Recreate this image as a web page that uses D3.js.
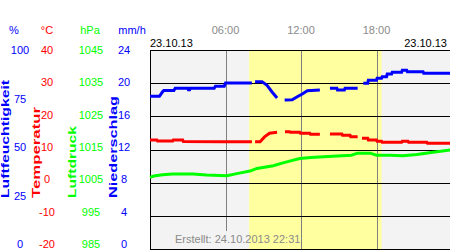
<!doctype html>
<html lang="de">
<head>
<meta charset="utf-8">
<style>
  body { margin: 0; background: #fff; }
  text { font-family: "Liberation Sans", Arial, Helvetica, sans-serif; font-size: 11px; }
  .title { font-weight: bold; }
</style>
</head>
<body>
<script src="https://d3js.org/d3.v7.min.js"></script>
<div id="chart"></div>
<script>
// axis columns (unit, tick labels, colour)
var humTicks = [0, 25, 50, 75, 100];
var tempTicks = [-20, -10, 0, 10, 20, 30, 40];
var presTicks = [985, 995, 1005, 1015, 1025, 1035, 1045];
var rainTicks = [0, 4, 8, 12, 16, 20, 24];
var timeTicks = [6, 12, 18];
var timeLabels = ["06:00", "12:00", "18:00"];
var daylight = [7.88, 18.4];

// Luftfeuchtigkeit (%), null = no data
var humHours = [0, 0.75, 1.0, 1.1, 1.9, 2.0, 3.0, 3.05, 3.15, 3.2, 5.1, 5.2, 5.9, 6.0, 8.1, 8.2,
  8.35, 8.9, 9.3, 9.7, 10.1, 10.4,
  10.7, 11.3, 11.7, 12.1, 12.5, 13.5, 13.9,
  14.3, 14.85, 14.9, 15.45, 15.5, 16.5, 16.7,
  16.95, 17.3, 17.35, 18.0, 18.05, 18.4, 18.45, 18.8, 18.85, 19.2, 19.25, 20.0, 20.05, 20.4, 20.45, 21.7, 21.75, 24];
var humValues = [76.7, 76.7, 79.0, 79.7, 79.7, 80.8, 80.8, 80.0, 80.0, 80.8, 80.8, 81.8, 81.8, 83.4, 83.4, null,
  84.1, 84.1, 82.2, 78.9, 75.9, null,
  74.9, 75.0, 76.5, 77.9, 79.5, 79.9, null,
  80.8, 80.8, 79.9, 79.9, 80.8, 80.8, null,
  83.3, 83.3, 84.8, 84.8, 85.8, 85.8, 86.6, 86.6, 87.9, 87.9, 88.8, 88.8, 89.8, 89.8, 89.1, 89.1, 88.3, 88.3];

// Temperatur (°C)
var tempHours = [0, 0.55, 0.6, 1.8, 1.85, 2.6, 2.65, 5.8, 8.1, 8.2,
  8.35, 8.75, 9.1, 9.5, 10.1, 10.4,
  10.73, 11.1, 11.15, 11.9, 11.95, 12.7, 12.75, 13.5, 13.9,
  14.3, 15.25, 15.3, 15.9, 15.95, 16.5, 16.7,
  16.85, 17.3, 17.35, 18.0, 18.05, 18.4, 18.45, 20.0, 20.05, 20.5, 20.55, 22.0, 22.05, 24];
var tempValues = [12.86, 12.86, 12.56, 12.56, 12.86, 12.86, 12.4, 12.3, 12.35, null,
  12.35, 12.35, 13.8, 14.9, 15.19, null,
  15.37, 15.37, 15.19, 15.19, 14.88, 14.88, 14.58, 14.58, null,
  14.67, 14.67, 14.28, 14.28, 13.86, 13.86, null,
  13.38, 13.38, 12.86, 12.86, 12.47, 12.47, 12.17, 12.17, 12.47, 12.47, 12.17, 12.17, 11.87, 11.87];

// Luftdruck (hPa)
var presHours = [0, 0.3, 1.0, 1.8, 3.4, 4.5, 6.1, 7.0, 7.95, 8.5, 9.8, 10.5, 11.1, 11.9, 12.8, 14.5,
  16.0, 16.5, 17.5, 18.0, 19.1, 20.1, 21.2, 22.5, 24];
var presValues = [1006.6, 1007.0, 1007.4, 1007.6, 1007.6, 1007.3, 1007.1, 1007.8, 1008.5, 1009.3, 1010.1, 1010.9, 1011.5, 1012.3, 1012.6, 1013.0,
  1013.3, 1013.9, 1013.9, 1013.3, 1013.3, 1013.1, 1013.5, 1014.2, 1014.9];

var width = 450, height = 250;
var plotLeft = 150, plotTop = 50, plotBottom = 249;

var svg = d3.select("#chart").append("svg")
  .attr("width", width).attr("height", height);

var x = d3.scaleLinear().domain([0, 24]).range([plotLeft, 452]);
var yHum = d3.scaleLinear().domain([0, 100]).range([plotBottom, plotTop]);
var yTemp = d3.scaleLinear().domain([-20, 40]).range([plotBottom, plotTop]);
var yPres = d3.scaleLinear().domain([985, 1045]).range([plotBottom, plotTop]);
// tick labels sit on a slightly shorter column
var labelY = d3.scaleLinear().domain([0, 1]).range([244, 50]);

var blue = "#0000ff", red = "#ff0000", green = "#00ff00";

// backgrounds
svg.append("rect").attr("x", plotLeft).attr("y", plotTop)
  .attr("width", width - plotLeft).attr("height", plotBottom - plotTop).attr("fill", "#f3f3f3");
svg.append("rect").attr("x", x(daylight[0])).attr("y", plotTop)
  .attr("width", x(daylight[1]) - x(daylight[0])).attr("height", plotBottom - plotTop).attr("fill", "#ffffa0");

// time lines (stop above the "Erstellt" note)
var noteX = [175, 297], noteTop = 231;
svg.selectAll(".vline").data(timeTicks).enter().append("line")
  .attr("x1", function(d) { return Math.round(x(d)) + 0.5; })
  .attr("x2", function(d) { return Math.round(x(d)) + 0.5; })
  .attr("y1", plotTop)
  .attr("y2", function(d) { var px = x(d); return (px > noteX[0] && px < noteX[1]) ? noteTop : plotBottom; })
  .attr("stroke", "#808080").attr("stroke-width", 1);

// horizontal grid
svg.selectAll(".hline").data(d3.range(7)).enter().append("line")
  .attr("x1", plotLeft).attr("x2", width)
  .attr("y1", function(d) { return Math.round(yTemp(-20 + d * 10)) + 0.5; })
  .attr("y2", function(d) { return Math.round(yTemp(-20 + d * 10)) + 0.5; })
  .attr("stroke", "#000").attr("stroke-width", 1);
svg.append("line").attr("x1", plotLeft + 0.5).attr("x2", plotLeft + 0.5)
  .attr("y1", plotTop).attr("y2", plotBottom + 1).attr("stroke", "#000").attr("stroke-width", 1);

// series
function drawSeries(hours, values, scale, color) {
  var pts = hours.map(function(h, i) { return { h: h, v: values[i] }; });
  var line = d3.line()
    .defined(function(d) { return d.v != null; })
    .x(function(d) { return x(d.h); })
    .y(function(d) { return scale(d.v); });
  svg.append("path").datum(pts)
    .attr("d", line).attr("fill", "none")
    .attr("stroke", color).attr("stroke-width", 3);
}
drawSeries(presHours, presValues, yPres, green);
drawSeries(tempHours, tempValues, yTemp, red);
drawSeries(humHours, humValues, yHum, blue);

// top labels
svg.selectAll(".tl").data(timeTicks).enter().append("text")
  .attr("x", function(d) { return x(d); }).attr("y", 34)
  .attr("text-anchor", "middle").attr("fill", "#8a8a8a")
  .text(function(d, i) { return timeLabels[i]; });
svg.append("text").attr("x", 150).attr("y", 47).text("23.10.13");
svg.append("text").attr("x", 447).attr("y", 47).attr("text-anchor", "end").text("23.10.13");
svg.append("text").attr("x", 175).attr("y", 243).attr("fill", "#8a8a8a").text("Erstellt: 24.10.2013 22:31");

// left axis columns
var cols = [
  { unit: "%", ux: 14, tx: 20, ticks: humTicks, color: blue, title: "Luftfeuchtigkeit", bx: 9, len: 118 },
  { unit: "°C", ux: 47, tx: 47, ticks: tempTicks, color: red, title: "Temperatur", bx: 40, len: 91 },
  { unit: "hPa", ux: 90, tx: 91, ticks: presTicks, color: green, title: "Luftdruck", bx: 76, len: 72 },
  { unit: "mm/h", ux: 132, tx: 124, ticks: rainTicks, color: blue, title: "Niederschlag", bx: 117, len: 102 }
];
cols.forEach(function(c) {
  svg.append("text").attr("x", c.ux).attr("y", 34).attr("text-anchor", "middle")
    .attr("fill", c.color).text(c.unit);
  var n = c.ticks.length - 1;
  svg.selectAll(null).data(c.ticks).enter().append("text")
    .attr("x", c.tx).attr("y", function(d, i) { return labelY(i / n) + 4; })
    .attr("text-anchor", "middle").attr("fill", c.color)
    .text(function(d) { return d; });
  svg.append("text").attr("class", "title")
    .attr("transform", "translate(" + c.bx + ",198) rotate(-90)")
    .attr("textLength", c.len).attr("lengthAdjust", "spacingAndGlyphs")
    .attr("fill", c.color).text(c.title);
});
</script>
</body>
</html>
